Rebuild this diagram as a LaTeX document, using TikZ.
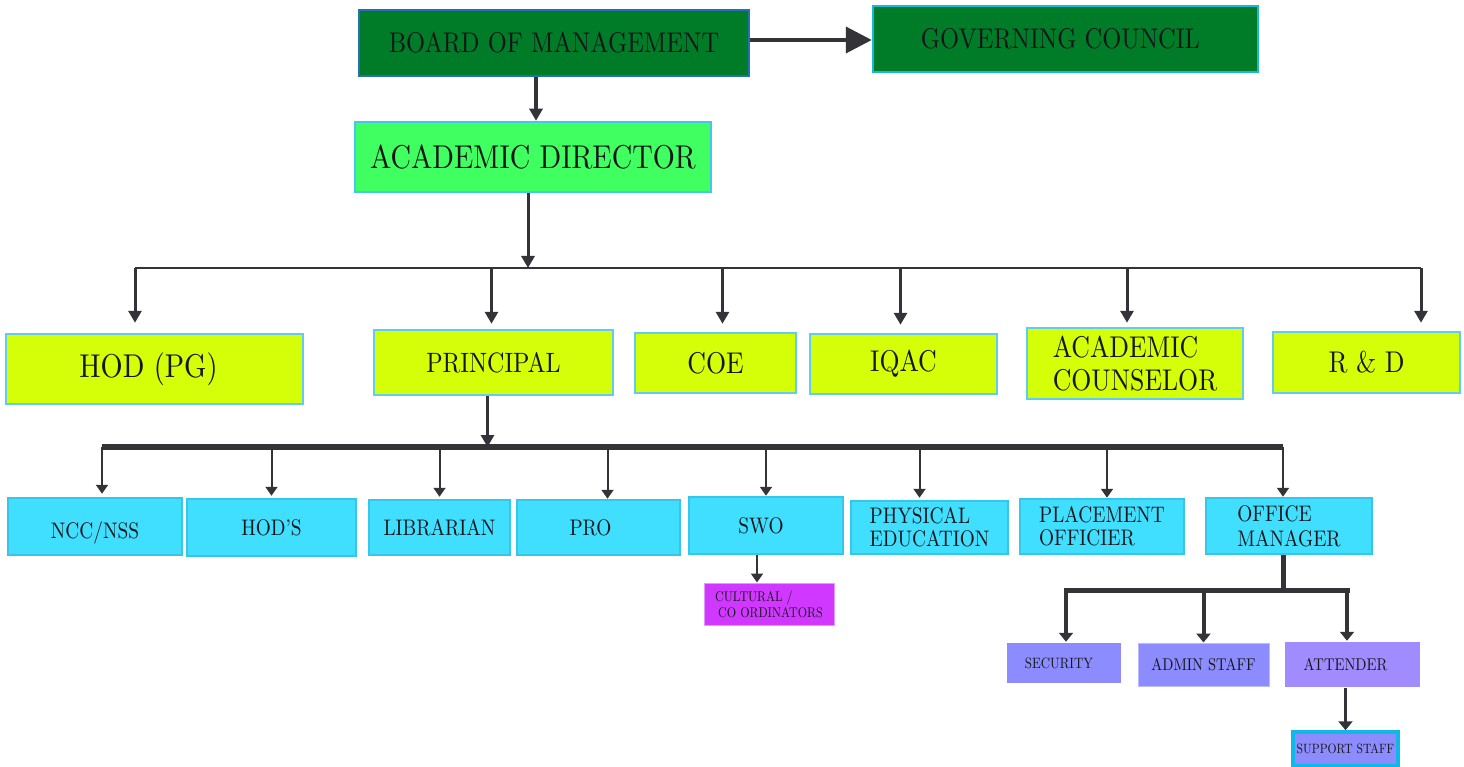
\documentclass[tikz,border=0pt]{standalone}
\usepackage{fontspec}
\setmainfont{lmroman10-regular.otf}[FakeStretch=0.86]
\usepackage{tikz}
\usetikzlibrary{arrows.meta}
\definecolor{inkblack}{RGB}{22,22,26}
\definecolor{linkgrey}{RGB}{51,51,56}
\definecolor{boardgreen}{RGB}{0,124,40}
\definecolor{boardline}{RGB}{36,112,184}
\definecolor{councilline}{RGB}{24,184,216}
\definecolor{directorgreen}{RGB}{64,255,96}
\definecolor{directorline}{RGB}{64,200,240}
\definecolor{headlime}{RGB}{212,255,8}
\definecolor{headline}{RGB}{96,204,240}
\definecolor{unitcyan}{RGB}{64,222,255}
\definecolor{unitline}{RGB}{56,198,232}
\definecolor{culturalpink}{RGB}{208,56,255}
\definecolor{culturalline}{RGB}{230,150,255}
\definecolor{staffblue}{RGB}{140,140,255}
\definecolor{attenderblue}{RGB}{160,140,255}
\definecolor{supportline}{RGB}{16,184,232}

\begin{document}
\begin{tikzpicture}[x=1pt,y=-1pt]
    \tikzstyle{box}=[draw,line width=2.5pt,inner sep=0pt,align=center,text=inkblack]
    \tikzstyle{board}=[box,fill=boardgreen,font=\fontsize{28.5}{31}\selectfont]
    \tikzstyle{director}=[box,fill=directorgreen,draw=directorline,font=\fontsize{33}{35}\selectfont]
    \tikzstyle{head}=[box,fill=headlime,draw=headline,font=\fontsize{30}{33}\selectfont]
    \tikzstyle{unit}=[box,fill=unitcyan,draw=unitline,font=\fontsize{22.5}{23}\selectfont]
    \tikzstyle{staff}=[box,fill=staffblue,draw=none,font=\fontsize{17}{19}\selectfont]
    \tikzstyle{link}=[draw=linkgrey,line width=3pt,-{Triangle[length=12pt,width=13pt]}]
    \tikzstyle{thinlink}=[draw=linkgrey,line width=2pt,-{Triangle[length=9pt,width=12pt]}]
    \tikzstyle{busline}=[draw=linkgrey,line width=2.5pt]
    \tikzstyle{heavybus}=[draw=linkgrey,line width=5.5pt]

    \useasboundingbox (0,0) rectangle (1464,767);

    % top of the chart
    \node[board,draw=boardline,minimum width=390pt,minimum height=66pt] (boardofmanagement) at (554,43) {BOARD OF MANAGEMENT};
    \node[board,draw=councilline,minimum width=385pt,minimum height=66pt] (governingcouncil) at (1065.5,39) {GOVERNING COUNCIL\hspace{10pt}};
    \node[director,minimum width=356pt,minimum height=70pt] (academicdirector) at (533,157) {ACADEMIC DIRECTOR};

    % second row
    \node[head,minimum width=297pt,minimum height=70pt,font=\fontsize{33}{35}\selectfont] (hodpg) at (154.5,369) {HOD (PG)\hspace{12pt}};
    \node[head,minimum width=239pt,minimum height=65pt,font=\fontsize{28}{30}\selectfont] (principal) at (493.5,362.5) {PRINCIPAL};
    \node[head,minimum width=161pt,minimum height=60pt] (coe) at (715.5,363) {COE};
    \node[head,minimum width=187pt,minimum height=60pt] (iqac) at (903.5,364) {IQAC};
    \node[head,minimum width=216pt,minimum height=71pt,align=left] (academiccounselor) at (1135,363.5) {ACADEMIC\\COUNSELOR};
    \node[head,minimum width=187pt,minimum height=61pt] (randd) at (1366.5,362.5) {R \& D};

    % third row
    \node[unit,minimum width=174pt,minimum height=57pt] (nccnss) at (95,526.5) {\raisebox{-4pt}[16pt][1pt]{NCC/NSS}};
    \node[unit,minimum width=169pt,minimum height=57pt] (hods) at (271.5,527.5) {HOD'S};
    \node[unit,minimum width=141pt,minimum height=55pt] (librarian) at (439.5,527.5) {LIBRARIAN};
    \node[unit,minimum width=163pt,minimum height=55pt] (pro) at (598.5,527.5) {PRO\hspace{16pt}};
    \node[unit,minimum width=154pt,minimum height=57pt] (swo) at (766,525.5) {SWO\hspace{10pt}};
    \node[unit,minimum width=157pt,minimum height=53pt,align=left] (physicaleducation) at (929.5,527.5) {PHYSICAL\\EDUCATION};
    \node[unit,minimum width=164pt,minimum height=55pt,align=left] (placementofficier) at (1102,526.5) {PLACEMENT\\OFFICIER};
    \node[unit,minimum width=166pt,minimum height=56pt,align=left,font=\fontsize{22.5}{25}\selectfont] (officemanager) at (1289,526) {OFFICE\\MANAGER};

    % below swo and office manager
    \node[box,fill=culturalpink,draw=culturalline,line width=1pt,minimum width=130pt,minimum height=42pt,align=left,font=\fontsize{14}{16}\selectfont] (culturalcoordinators) at (769,604) {CULTURAL /\\\hspace{3pt}CO ORDINATORS};
    \node[staff,minimum width=114pt,minimum height=40pt,font=\fontsize{15}{17}\selectfont] (security) at (1064,663) {SECURITY\hspace{10pt}};
    \node[staff,draw=staffblue!60!white,line width=1pt,minimum width=131pt,minimum height=43pt] (adminstaff) at (1203.5,664.5) {ADMIN STAFF};
    \node[staff,fill=attenderblue,minimum width=135pt,minimum height=45pt] (attender) at (1352.5,664.5) {ATTENDER\hspace{14pt}};
    \node[staff,draw=supportline,line width=3.5pt,minimum width=105pt,minimum height=34pt,font=\fontsize{13.5}{15}\selectfont] (supportstaff) at (1345.5,749) {SUPPORT STAFF};

    % bus lines
    \coordinate (busleft) at (135,268);
    \coordinate (busright) at (1421,268);
    \coordinate (bustwoleft) at (102,447);
    \coordinate (bustworight) at (1283,447);
    \coordinate (busthreeleft) at (1066,590);
    \coordinate (busthreeright) at (1347,590);

    \draw [draw=linkgrey,line width=4pt,-{Triangle[length=26pt,width=26pt]}] ([yshift=3pt]boardofmanagement.east) -- ([yshift=3pt]boardofmanagement.east -| governingcouncil.west);
    \draw [link,line width=3.5pt] ([xshift=3pt]boardofmanagement.south -| academicdirector.north) -- ([xshift=3pt]academicdirector.north);
    \draw [link] ([xshift=-5pt]academicdirector.south) -- ([xshift=-5pt]academicdirector.south |- busleft);

    \draw [busline] (busleft) -- (busright);
    \draw [link] (busleft) -- ([yshift=10pt]busleft |- hodpg.north);
    \draw [link] ([xshift=-2pt]principal.north |- busleft) -- ([xshift=-2pt,yshift=5pt]principal.north);
    \draw [link] ([xshift=7pt]coe.north |- busleft) -- ([xshift=7pt,yshift=8pt]coe.north);
    \draw [link] ([xshift=-3pt]iqac.north |- busleft) -- ([xshift=-3pt,yshift=8pt]iqac.north);
    \draw [link] ([xshift=-8pt]academiccounselor.north |- busleft) -- ([xshift=-8pt,yshift=4pt]academiccounselor.north);
    \draw [link] (busright) -- ([yshift=8pt]busright |- randd.north);

    \draw [link,line width=3.5pt] ([xshift=-6pt]principal.south) -- ([xshift=-6pt]principal.south |- bustwoleft);
    \draw [heavybus] (bustwoleft) -- (bustworight);
    \draw [thinlink] (bustwoleft) -- ([yshift=3pt]bustwoleft |- nccnss.north);
    \draw [thinlink] (hods.north |- bustwoleft) -- ([yshift=2pt]hods.north);
    \draw [thinlink] (librarian.north |- bustwoleft) -- ([yshift=2pt]librarian.north);
    \draw [thinlink] ([xshift=9pt]pro.north |- bustwoleft) -- ([xshift=9pt]pro.north);
    \draw [thinlink] (swo.north |- bustwoleft) -- (swo.north);
    \draw [thinlink] ([xshift=-10pt]physicaleducation.north |- bustwoleft) -- ([xshift=-10pt,yshift=2pt]physicaleducation.north);
    \draw [thinlink] ([xshift=5pt]placementofficier.north |- bustwoleft) -- ([xshift=5pt]placementofficier.north);
    \draw [thinlink] (bustworight) -- (bustworight |- officemanager.north);

    \draw [thinlink] ([xshift=-9pt]swo.south) -- ([xshift=-9pt]swo.south |- culturalcoordinators.north);

    \draw [heavybus,line width=5pt] (officemanager.south -| bustworight) -- (bustworight |- busthreeleft);
    \draw [heavybus,line width=5pt,line cap=rect] (busthreeleft) -- (busthreeright);
    \draw [link,line width=4pt,-{Triangle[length=9pt,width=14pt]}] (busthreeleft) -- (busthreeleft |- security.north);
    \draw [link,line width=4pt,-{Triangle[length=9pt,width=14pt]}] (adminstaff.north |- busthreeleft) -- (adminstaff.north);
    \draw [link,line width=4pt,-{Triangle[length=9pt,width=14pt]}] (busthreeright) -- (busthreeright |- attender.north);
    \draw [link,line width=3.5pt,-{Triangle[length=9pt,width=14pt]}] (attender.south -| supportstaff.north) -- (supportstaff.north);

\end{tikzpicture}
\end{document}
